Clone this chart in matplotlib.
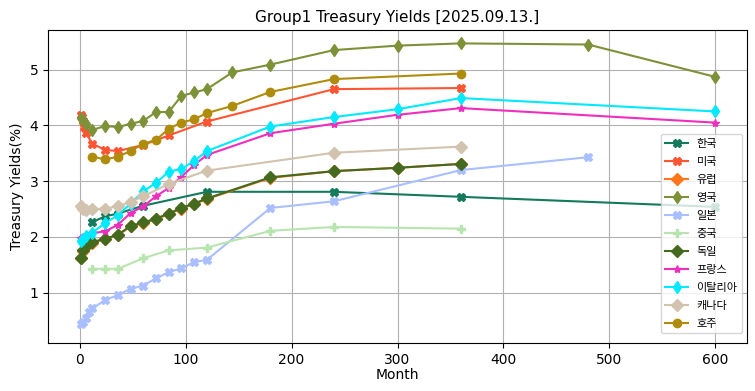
import matplotlib
matplotlib.use("Agg")
import matplotlib.pyplot as plt

plt.rcParams['font.family'] = ['DejaVu Sans', 'Noto Sans CJK KR']

kr_m = [12, 24, 36, 60, 120, 240, 360, 600]
kr_v = [2.27, 2.37, 2.42, 2.56, 2.81, 2.81, 2.72, 2.54]

us_m = [1, 2, 3, 4, 6, 12, 24, 36, 60, 84, 120, 240, 360]
us_v = [4.19, 4.15, 4.08, 3.97, 3.86, 3.67, 3.56, 3.54, 3.65, 3.82, 4.07, 4.65, 4.67]

de_m = [1, 3, 6, 12, 24, 36, 48, 60, 72, 84, 96, 108, 120, 180, 240, 300, 360]
de_v = [1.63, 1.76, 1.84, 1.91, 1.97, 2.04, 2.20, 2.26, 2.33, 2.42, 2.52, 2.60, 2.69, 3.07, 3.18, 3.24, 3.31]
eu_v = [1.62, 1.75, 1.83, 1.90, 1.96, 2.03, 2.19, 2.25, 2.32, 2.41, 2.51, 2.59, 2.68, 3.06, 3.18, 3.24, 3.31]

uk_m = [1, 3, 6, 12, 24, 36, 48, 60, 72, 84, 96, 108, 120, 144, 180, 240, 300, 360, 480, 600]
uk_v = [4.14, 4.10, 4.02, 3.92, 3.99, 3.97, 4.03, 4.08, 4.24, 4.24, 4.53, 4.59, 4.65, 4.95, 5.09, 5.35, 5.43, 5.47, 5.45, 4.87]

jp_m = [1, 3, 6, 9, 12, 24, 36, 48, 60, 72, 84, 96, 108, 120, 180, 240, 360, 480]
jp_v = [0.44, 0.48, 0.55, 0.65, 0.72, 0.87, 0.96, 1.07, 1.13, 1.26, 1.37, 1.44, 1.55, 1.59, 2.52, 2.64, 3.20, 3.43]

cn_m = [12, 24, 36, 60, 84, 120, 180, 240, 360]
cn_v = [1.43, 1.43, 1.43, 1.62, 1.76, 1.81, 2.11, 2.18, 2.15]

fr_m = [1, 3, 6, 12, 24, 36, 48, 60, 72, 84, 96, 108, 120, 180, 240, 300, 360, 600]
fr_v = [1.99, 2.00, 2.02, 2.07, 2.10, 2.22, 2.43, 2.55, 2.73, 2.88, 3.08, 3.29, 3.47, 3.86, 4.03, 4.19, 4.31, 4.05]

it_m = [1, 3, 6, 12, 24, 36, 48, 60, 72, 84, 96, 108, 120, 180, 240, 300, 360, 600]
it_v = [1.92, 1.97, 2.02, 2.08, 2.25, 2.39, 2.60, 2.82, 2.97, 3.17, 3.22, 3.36, 3.54, 3.98, 4.15, 4.29, 4.49, 4.25]

ca_m = [1, 3, 6, 12, 24, 36, 48, 60, 84, 120, 240, 360]
ca_v = [2.56, 2.51, 2.48, 2.50, 2.51, 2.55, 2.63, 2.73, 2.95, 3.19, 3.51, 3.62]

au_m = [12, 24, 36, 48, 60, 72, 84, 96, 108, 120, 144, 180, 240, 360]
au_v = [3.44, 3.39, 3.44, 3.54, 3.67, 3.74, 3.94, 4.05, 4.11, 4.22, 4.35, 4.60, 4.83, 4.93]

series = [
    ('한국', kr_m, kr_v, '#137a5c', 'X'),
    ('미국', us_m, us_v, '#ff5533', 'X'),
    ('유럽', de_m, eu_v, '#ff7518', 'D'),
    ('영국', uk_m, uk_v, '#7d9138', 'd'),
    ('일본', jp_m, jp_v, '#aabfff', 'X'),
    ('중국', cn_m, cn_v, '#b8e4b0', 'P'),
    ('독일', de_m, de_v, '#436a1f', 'D'),
    ('프랑스', fr_m, fr_v, '#f02ebd', '*'),
    ('이탈리아', it_m, it_v, '#00eaff', 'd'),
    ('캐나다', ca_m, ca_v, '#d2c3af', 'D'),
    ('호주', au_m, au_v, '#b08c0c', 'o'),
]

fig = plt.figure(figsize=(7.55, 3.91), dpi=100)
ax = fig.add_axes([48/755, 1-343/391, (747-48)/755, (343-30)/391])
for name, m, v, c, mk in series:
    ax.plot(m, v, color=c, marker=mk, markersize=6, linewidth=1.5, label=name)

ax.set_xlim(-30, 630)
ax.set_ylim(0.10, 5.71)
ax.set_xticks([0, 100, 200, 300, 400, 500, 600])
ax.set_yticks([1, 2, 3, 4, 5])
ax.grid(True, color='#b0b0b0', linewidth=0.8)
ax.set_axisbelow(True)
ax.set_title('Group1 Treasury Yields [2025.09.13.]', fontsize=11)
ax.set_xlabel('Month', fontsize=10, labelpad=1)
ax.set_ylabel('Treasury Yields(%)', fontsize=10)
ax.legend(loc='lower right', fontsize=8, labelspacing=0.72,
          bbox_to_anchor=(742/755, 1-333/391), bbox_transform=fig.transFigure,
          borderaxespad=0)

fig.savefig('out.png', dpi=100)
